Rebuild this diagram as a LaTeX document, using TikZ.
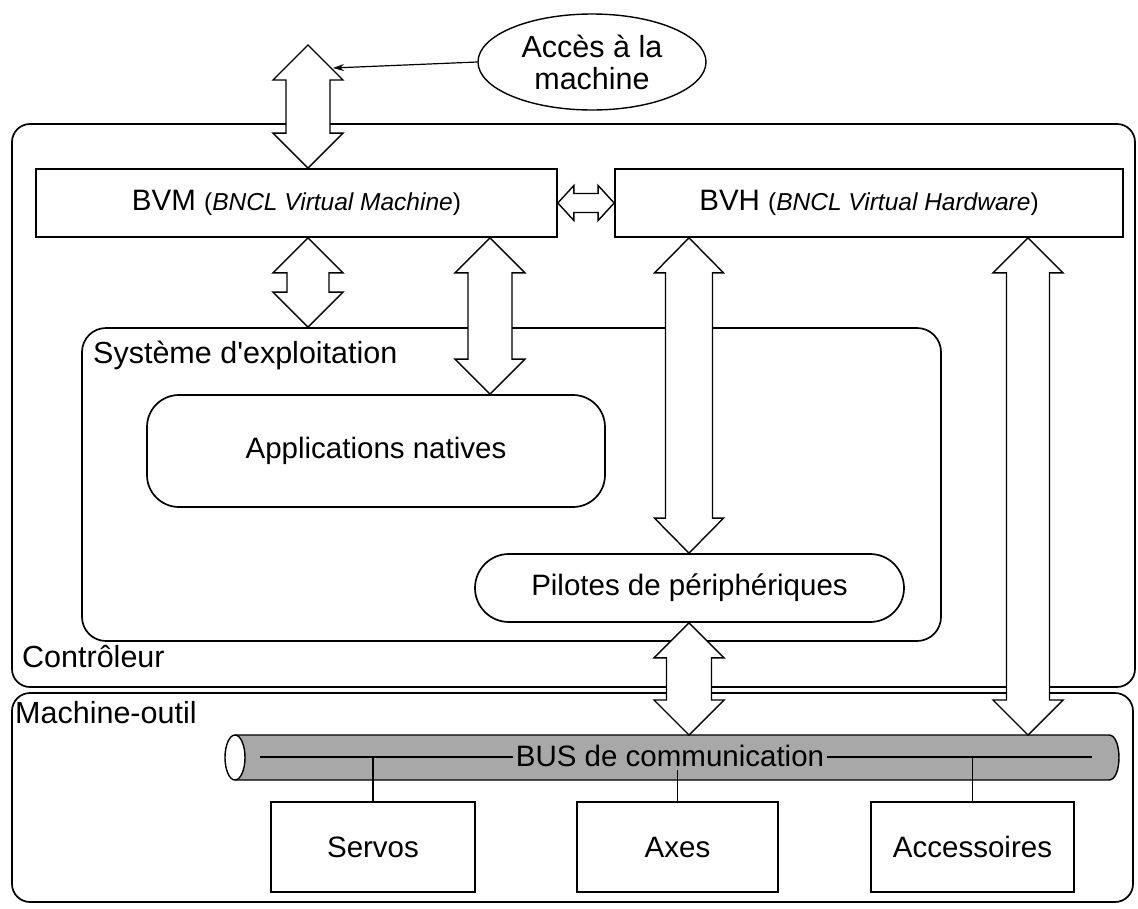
\documentclass[tikz,border=0pt]{standalone}
\usepackage{fontspec}
\setmainfont{Liberation Sans}
\usetikzlibrary{calc,arrows.meta,shapes.geometric}

\newcommand\bigtxt{\fontsize{29.5pt}{32pt}\selectfont}
\newcommand\lbltxt{\fontsize{30.5pt}{32pt}\selectfont}
\newcommand\smtxt{\fontsize{24.5pt}{27pt}\selectfont}
\newcommand\apos{{\addfontfeature{Ligatures=TeXOff}'}}
\definecolor{busgray}{gray}{0.66}

% hollow double-headed block arrow between two points
% #1,#2 end points; #3 half head width; #4 half shaft width; #5 head length
\newcommand\dblarr[5]{%
  \coordinate (da) at #1; \coordinate (db) at #2;
  \coordinate (ha) at ($(da)!#5!(db)$);
  \coordinate (hb) at ($(db)!#5!(da)$);
  \draw[blockarr] (da) -- ($(ha)!#3!90:(db)$) -- ($(ha)!#4!90:(db)$)
    -- ($(hb)!#4!-90:(da)$) -- ($(hb)!#3!-90:(da)$) -- (db)
    -- ($(hb)!#3!90:(da)$) -- ($(hb)!#4!90:(da)$)
    -- ($(ha)!#4!-90:(db)$) -- ($(ha)!#3!-90:(db)$) -- cycle;}

\begin{document}
\begin{tikzpicture}[x=1pt,y=-1pt,line join=miter,
  frame/.style={draw,line width=1.7pt,inner sep=0pt},
  region/.style={frame,rounded corners=#1},
  plain/.style={frame,fill=white,font=\bigtxt},
  blockarr/.style={draw,fill=white,line width=1.4pt},
  link/.style={draw,line width=1.2pt},
  lbl/.style={font=\lbltxt,inner sep=0pt,anchor=base west}]

\useasboundingbox (0,0) rectangle (1138,908);

% outer regions
\node[region=18pt,minimum width=1123pt,minimum height=563pt] (ctrl) at (573.5,405.5) {};
\node[region=18pt,minimum width=1121pt,minimum height=209pt] (mach) at (572.5,797.5) {};
\node[region=24pt,minimum width=859pt,minimum height=313pt] (sys) at (511.5,484.5) {};
\node[region=32pt,minimum width=458pt,minimum height=112pt,font=\bigtxt] (apps) at (376,451) {Applications natives};
\node[region=34pt,minimum width=429pt,minimum height=68pt,font=\bigtxt] (pil) at (689.5,588) {Pilotes de périphériques};

\node[lbl] (lctrl) at (22,667) {Contrôleur};
\node[lbl] (lmach) at (15,723) {Machine-outil};
\node[lbl] (lsys) at (93,363) {Système d\apos exploitation};

% virtual machine / hardware layers
\node[plain,minimum width=521pt,minimum height=68pt] (bvm) at (296.5,203)
  {BVM {\smtxt(\textit{BNCL Virtual Machine})}};
\node[plain,minimum width=508pt,minimum height=68pt] (bvh) at (869,203)
  {BVH {\smtxt(\textit{BNCL Virtual Hardware})}};

% access ellipse
\node[draw,ellipse,line width=1.4pt,inner sep=0pt,minimum width=228pt,minimum height=96pt,
  align=center,font=\lbltxt] (access) at (592,62) {Accès à la\\machine};

% communication bus
\fill[busgray] (235,735) -- (1109,735) .. controls (1122.3,735) and (1122.3,780) .. (1109,780) -- (235,780) -- cycle;
\draw[line width=1.4pt] (235,735) -- (1109,735) .. controls (1122.3,735) and (1122.3,780) .. (1109,780) -- (235,780);
\draw[line width=1.4pt,fill=white] (235,757.5) ellipse [x radius=10pt,y radius=22.5pt];
\coordinate (busl) at (260,757);
\coordinate (busr) at (1092,757);
\coordinate (bustop) at (0,735);
\draw[link] (busl) -- (busr);
\node[fill=busgray,font=\bigtxt,inner sep=3pt] (bustxt) at (670,756) {BUS de communication};

% devices
\node[plain,minimum width=204pt,minimum height=90pt] (servos) at (373,847) {Servos};
\node[plain,minimum width=201pt,minimum height=90pt] (axes) at (677.5,847) {Axes};
\node[plain,minimum width=203pt,minimum height=90pt] (accs) at (972.5,847) {Accessoires};
\draw[link] (servos.north) -- (servos.north |- busl);
\draw[link] (axes.north) -- (axes.north |- bustxt.south);
\draw[link] (accs.north) -- (accs.north |- busl);

% block arrows
\coordinate (k1) at (308,0);
\coordinate (k2) at (490,0);
\coordinate (k3) at (689,0);
\coordinate (k4) at (1028,0);
\coordinate (topend) at (308,45);
\dblarr{(topend)}{(bvm.north -| k1)}{35pt}{22pt}{35pt}
\dblarr{(bvm.east)}{(bvh.west)}{17.5pt}{9.5pt}{16pt}
\dblarr{(bvm.south -| k1)}{(sys.north -| k1)}{35pt}{21pt}{35pt}
\dblarr{(bvm.south -| k2)}{(apps.north -| k2)}{35pt}{22pt}{35pt}
\dblarr{(bvh.south -| k3)}{(pil.north -| k3)}{34.5pt}{23.5pt}{35pt}
\dblarr{(bvh.south -| k4)}{(k4 |- bustop)}{35pt}{21.5pt}{35pt}
\dblarr{(pil.south -| k3)}{(k3 |- bustop)}{35pt}{22.5pt}{35pt}

% pointer from the access label
\coordinate (hit) at (333,68);
\draw[link,-{Stealth[length=11pt,width=7pt]}] (access.west) -- (hit);

\end{tikzpicture}
\end{document}
